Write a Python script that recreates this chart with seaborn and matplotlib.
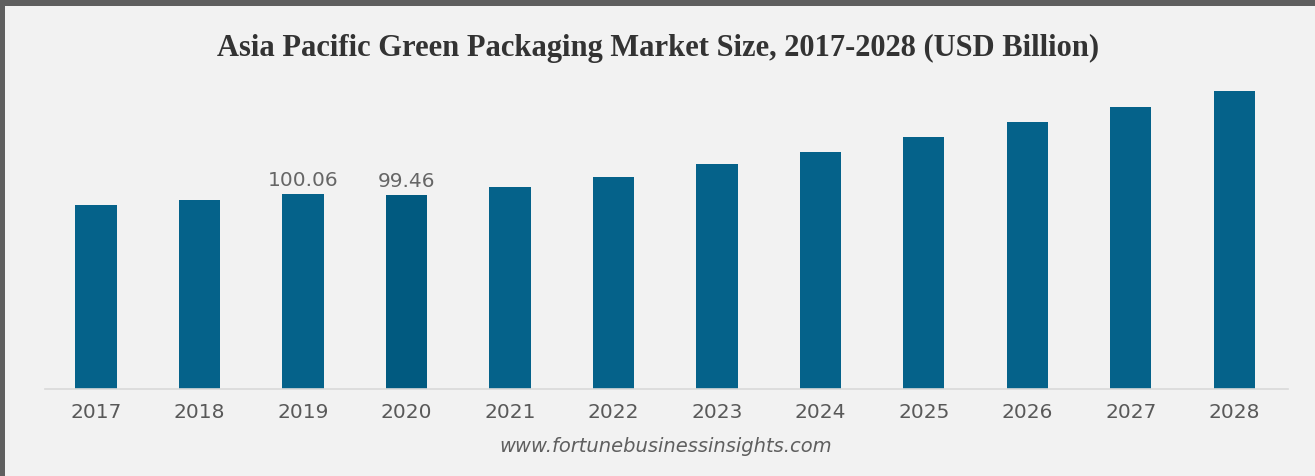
import matplotlib
matplotlib.use("Agg")
import matplotlib.pyplot as plt
from matplotlib.patches import Rectangle
import seaborn as sns
import pandas as pd

# Market size by year (USD billion)
years = ["2017", "2018", "2019", "2020", "2021", "2022",
         "2023", "2024", "2025", "2026", "2027", "2028"]
values = [94.4, 97.0, 100.06, 99.46, 103.4, 108.6,
          115.2, 121.8, 129.3, 137.0, 144.9, 152.9]
labelled_years = ["2019", "2020"]
title = "Asia Pacific Green Packaging Market Size, 2017-2028 (USD Billion)"
source = "www.fortunebusinessinsights.com"

bar_color = "#05628a"
highlight_color = "#015a80"
bg = "#f2f2f2"

df = pd.DataFrame({"year": years, "value": values})
palette = {y: (highlight_color if y == "2020" else bar_color) for y in years}

sns.set_theme(style="white")
plt.rcParams["font.family"] = ["DejaVu Sans"]

W, H = 1315, 476
fig = plt.figure(figsize=(W / 100, H / 100), dpi=100, facecolor=bg)

# dark frame along the top and left edges
fig.patches.append(Rectangle((0, 1 - 6 / H), 1, 6 / H, transform=fig.transFigure,
                             facecolor="#5f5f5f", edgecolor="none", zorder=5))
fig.patches.append(Rectangle((0, 0), 5 / W, 1, transform=fig.transFigure,
                             facecolor="#5f5f5f", edgecolor="none", zorder=5))

ax_left, ax_right = 45 / W, 1288 / W
ax_bottom, ax_top = (H - 389) / H, (H - 80) / H
ax = fig.add_axes([ax_left, ax_bottom, ax_right - ax_left, ax_top - ax_bottom])
ax.set_facecolor(bg)

sns.barplot(data=df, x="year", y="value", hue="year", palette=palette,
            legend=False, width=0.4, saturation=1, ax=ax, edgecolor="none")

ax.set_xlim(-0.493, 11.52)
ax.set_ylim(0, 158.5)

for side in ["top", "right", "left"]:
    ax.spines[side].set_visible(False)
ax.spines["bottom"].set_color("#d9d9d9")
ax.spines["bottom"].set_linewidth(1.2)
ax.set_yticks([])
ax.set_xlabel("")
ax.set_ylabel("")
ax.tick_params(axis="x", length=0, pad=10, labelsize=14.5, labelcolor="#595959")

for i, (y, v) in enumerate(zip(years, values)):
    if y in labelled_years:
        ax.annotate(f"{v:.2f}", (i, v), xytext=(0, 3), textcoords="offset points",
                    ha="center", va="bottom", fontsize=14.5, color="#666666")

fig.text(658 / W, 1 - 48 / H, title, ha="center", va="center",
         fontsize=22, fontweight="bold", family=["Liberation Serif", "DejaVu Serif"],
         color="#333333")
fig.text(666 / W, 1 - 446 / H, source, ha="center", va="center",
         fontsize=14, style="italic", color="#5f5f5f")

fig.savefig("out.png", dpi=100, facecolor=bg)
